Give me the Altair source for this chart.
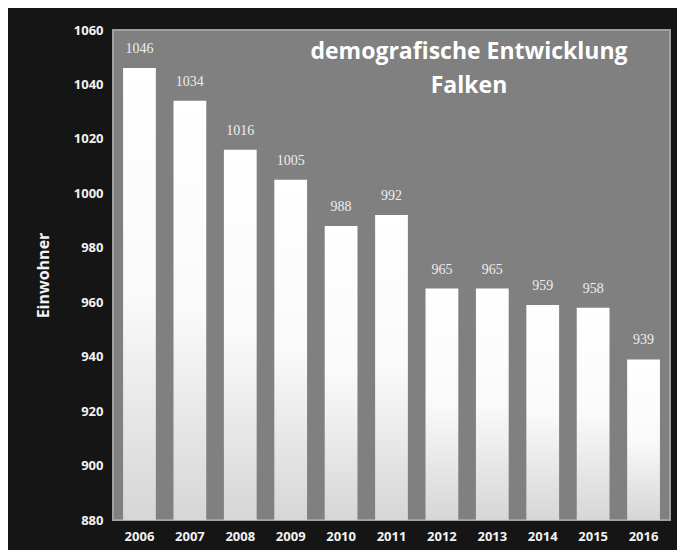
import altair as alt
import pandas as pd

years = ["2006", "2007", "2008", "2009", "2010", "2011", "2012", "2013", "2014", "2015", "2016"]
einwohner = [1046, 1034, 1016, 1005, 988, 992, 965, 965, 959, 958, 939]
title_lines = ["demografische Entwicklung", "Falken"]

df = pd.DataFrame({"Jahr": years, "Einwohner": einwohner})

x = alt.X("Jahr:N", sort=years, title=None,
          scale=alt.Scale(paddingInner=0.35, paddingOuter=0.2),
          axis=alt.Axis(labelAngle=0, labelColor="#f2f2f2", labelFont="Open Sans",
                        labelFontWeight="bold", labelFontSize=13, labelPadding=10,
                        ticks=False, domain=False))
y = alt.Y("Einwohner:Q", title="Einwohner",
          scale=alt.Scale(domain=[880, 1060], zero=False, nice=False),
          axis=alt.Axis(values=list(range(880, 1061, 20)), format="d", labelColor="#f2f2f2",
                        labelFont="Open Sans", labelFontWeight="bold", labelFontSize=13,
                        labelPadding=10, ticks=False, domain=False, grid=False,
                        titleColor="#f2f2f2", titleFont="Open Sans", titleFontWeight="bold",
                        titleFontSize=16, titlePadding=22))

grad = alt.Gradient(gradient="linear",
                    stops=[alt.GradientStop(color="#ffffff", offset=0),
                           alt.GradientStop(color="#fafafa", offset=0.5),
                           alt.GradientStop(color="#d6d6d6", offset=1)],
                    x1=0, x2=0, y1=0, y2=1)

bars = alt.Chart(df).mark_bar(color=grad).encode(x=x, y=y, y2=alt.datum(880))

labels = alt.Chart(df).mark_text(dy=-19, color="#eeeeee", font="Liberation Serif",
                                 fontSize=14).encode(x=x, y=y, text="Einwohner:Q")

tdf = pd.DataFrame({"t": title_lines, "ypos": [22, 56]})
title = alt.Chart(tdf).mark_text(color="#ffffff", font="Open Sans", fontWeight="bold",
                                 fontSize=23).encode(
    x=alt.value(356), y=alt.Y("ypos:Q", scale=None, axis=None), text="t:N")

chart = alt.layer(bars, labels, title).properties(
    width=557, height=490,
    autosize=alt.AutoSizeParams(type="none"),
    padding={"left": 105, "top": 22, "right": 7, "bottom": 30},
    background="#151515",
).configure_view(fill="#808080", stroke="#a0a0a0", strokeWidth=2)

chart.save("out.html", embed_options={"renderer": "svg", "actions": False})
